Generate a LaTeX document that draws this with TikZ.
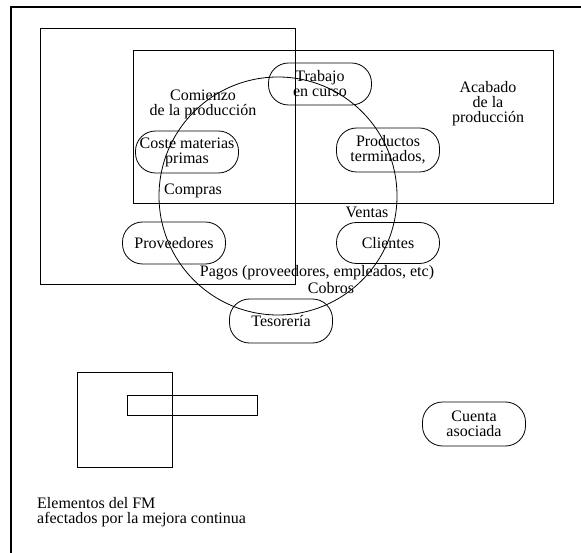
\documentclass[tikz,border=0pt]{standalone}
\usepackage{fontspec}
\setmainfont{Liberation Serif}
\begin{document}
\begin{tikzpicture}[x=1pt,y=-1pt,
  txt/.style={font=\fontsize{16}{15}\selectfont, inner sep=0pt, align=center},
  oval/.style={txt, draw, line width=0.8pt, rectangle, rounded corners=20pt,
    minimum width=103pt, minimum height=42pt},
  box/.style={draw, line width=0.8pt},
  frame/.style={draw, line width=1.6pt}]
\useasboundingbox (0,0) rectangle (581,553);

% outer frame (top and left edges)
\draw[frame] (581,7) -- (11,7) -- (11,553);

% process areas
\draw[box] (40,28) rectangle (295,284);
\draw[box] (133,50) rectangle (553,203);

% cycle of the working capital
\draw[line width=0.8pt] (278,196) circle (119);

% accounts
\node[oval] (trabajo) at (320,84) {Trabajo\\en curso};
\node[oval] (coste) at (187,152) {Coste materias\\primas};
\node[oval, minimum height=44pt] (productos) at (388,150) {Productos\\terminados,};
\node[oval, minimum height=41pt] (clientes) at (388,243) {Clientes};
\node[oval] (proveedores) at (174,243) {Proveedores};
\node[oval, minimum height=44pt] (tesoreria) at (281,321) {Tesorería};
\node[oval, minimum height=44pt] (cuenta) at (474,424) {Cuenta\\asociada};

% area and flow labels
\node[txt] (comienzo) at (203,104) {Comienzo\\de la producción};
\node[txt] (acabado) at (488,104) {Acabado\\de la\\producción};
\node[txt] (compras) at (193,191) {Compras};
\node[txt] (ventas) at (367,212) {Ventas};
\node[txt] (pagos) at (317,273) {Pagos (proveedores, empleados, etc)};
\node[txt] (cobros) at (331,288) {Cobros};

% legend
\draw[box] (77,372) rectangle (172,467);
\draw[box] (127,395) rectangle (257,415);
\node[txt, align=left, anchor=west] (legend) at (37,512) {Elementos del FM\\afectados por la mejora continua};
\end{tikzpicture}
\end{document}
